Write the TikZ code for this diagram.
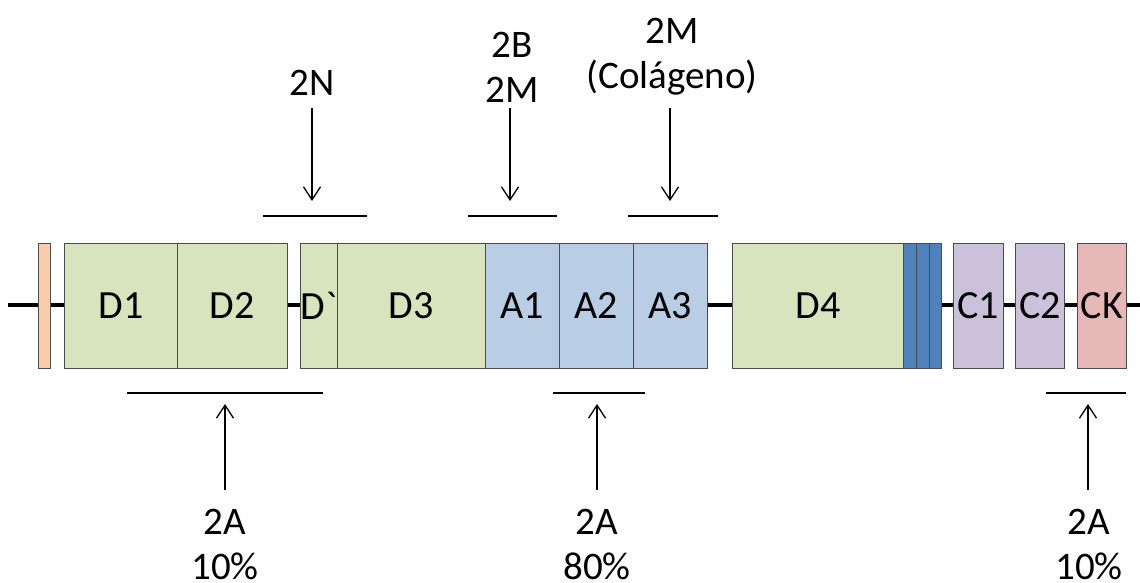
\documentclass[tikz,border=0pt]{standalone}
\usepackage{fontspec}
\setmainfont{Carlito}
\newfontfamily\gravefont{Carlito}[Ligatures=TeXOff]
\usetikzlibrary{arrows.meta}
\definecolor{dgreen}{HTML}{D7E4BD}
\definecolor{dblue}{HTML}{B9CDE5}
\definecolor{stripe}{HTML}{4F81BD}
\definecolor{lav}{HTML}{CCC1DA}
\definecolor{pinkck}{HTML}{E6B9B8}
\definecolor{peach}{HTML}{F9CDAA}
\begin{document}
\begin{tikzpicture}[x=1pt,y=-1pt,
  box/.style={draw=black!70, line width=0.8pt, minimum height=125pt, inner sep=0pt, anchor=west, font=\fontsize{40}{46}\selectfont},
  lbl/.style={align=center, inner sep=0pt, font=\fontsize{39}{45}\selectfont},
  bar/.style={line width=2.6pt},
  arr/.style={line width=1.3pt, -{Straight Barb[length=13pt,width=17pt,line width=1.3pt]}},
  mainline/.style={line width=4.5pt}]
\useasboundingbox (0,0) rectangle (1140,583);
% main line
\coordinate (lineL) at (8,305);
\coordinate (lineR) at (1140,305);
\draw[mainline] (lineL) -- (lineR);
% domains
\node[box, fill=peach, minimum width=12pt] (sp) at (38,305.5) {};
\node[box, fill=dgreen, minimum width=113pt] (D1) at (64,305.5) {D1};
\node[box, fill=dgreen, minimum width=110pt] (D2) at (177,305.5) {D2};
\node[box, fill=dgreen, minimum width=37pt] (Dp) at (300,305.5) {D{\gravefont`}};
\node[box, fill=dgreen, minimum width=148pt] (D3) at (337,305.5) {D3};
\node[box, fill=dblue, minimum width=74pt] (A1) at (485,305.5) {A1};
\node[box, fill=dblue, minimum width=74pt] (A2) at (559,305.5) {A2};
\node[box, fill=dblue, minimum width=74pt] (A3) at (633,305.5) {A3};
\node[box, fill=dgreen, minimum width=171pt] (D4) at (732,305.5) {D4};
\node[box, fill=stripe, minimum width=13pt] (B1) at (903,305.5) {};
\node[box, fill=stripe, minimum width=13pt] (B2) at (916,305.5) {};
\node[box, fill=stripe, minimum width=12pt] (B3) at (929,305.5) {};
\node[box, fill=lav, minimum width=50pt] (C1) at (953,305.5) {C1};
\node[box, fill=lav, minimum width=49pt] (C2) at (1015,305.5) {C2};
\node[box, fill=pinkck, minimum width=49pt] (CK) at (1077,305.5) {CK};
% top bars
\coordinate (bNa) at (263,216); \coordinate (bNb) at (367,216);
\coordinate (bBa) at (468,216); \coordinate (bBb) at (557,216);
\coordinate (bMa) at (628,216); \coordinate (bMb) at (718,216);
\draw[bar] (bNa) -- (bNb);
\draw[bar] (bBa) -- (bBb);
\draw[bar] (bMa) -- (bMb);
% bottom bars
\coordinate (u1a) at (127,393); \coordinate (u1b) at (323,393);
\coordinate (u2a) at (553,393); \coordinate (u2b) at (645,393);
\coordinate (u3a) at (1046,393); \coordinate (u3b) at (1126,393);
\draw[bar] (u1a) -- (u1b);
\draw[bar] (u2a) -- (u2b);
\draw[bar] (u3a) -- (u3b);
% top labels and arrows
\node[lbl] (l2N) at (312,83) {2N};
\node[lbl] (l2B) at (512,67) {2B\\2M};
\node[lbl] (l2M) at (672,57) {2M\\(Colágeno)};
\coordinate (sN) at (312,108); \coordinate (tN) at (312,201);
\coordinate (sB) at (510,108); \coordinate (tB) at (510,201);
\coordinate (sM) at (670,108); \coordinate (tM) at (670,201);
\draw[arr] (sN) -- (tN);
\draw[arr] (sB) -- (tB);
\draw[arr] (sM) -- (tM);
% bottom labels and arrows
\node[lbl] (lA1) at (225,545) {2A\\10\%};
\node[lbl] (lA2) at (597,545) {2A\\80\%};
\node[lbl] (lA3) at (1089,545) {2A\\10\%};
\coordinate (s1) at (225,490); \coordinate (t1) at (225,404);
\coordinate (s2) at (597,490); \coordinate (t2) at (597,404);
\coordinate (s3) at (1088,490); \coordinate (t3) at (1088,404);
\draw[arr] (s1) -- (t1);
\draw[arr] (s2) -- (t2);
\draw[arr] (s3) -- (t3);
\end{tikzpicture}
\end{document}
